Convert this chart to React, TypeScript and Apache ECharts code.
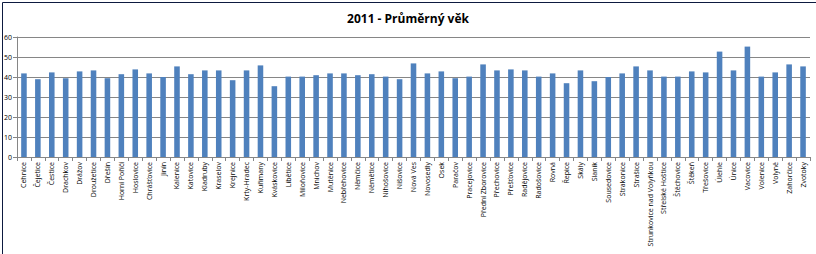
import React, { useEffect, useRef } from "react";
import * as echarts from "echarts";

const titleText = "2011 - Průměrný věk";

const categories = [
  "Cehnice", "Čejetice", "Čestice", "Drachkov", "Drážov", "Droužetice", "Dřešín",
  "Horní Poříčí", "Hoslovice", "Chrášťovice", "Jinín", "Kalenice", "Katovice", "Kladruby",
  "Kraselov", "Krejnice", "Krty-Hradec", "Kuřimany", "Kváskovice", "Libětice", "Miloňovice",
  "Mnichov", "Mutěnice", "Nebřehovice", "Němčice", "Němětice", "Nihošovice", "Nišovice",
  "Nová Ves", "Novosedly", "Osek", "Paračov", "Pracejovice", "Přední Zborovice", "Přechovice",
  "Přešťovice", "Radějovice", "Radošovice", "Rovná", "Řepice", "Skály", "Slaník",
  "Sousedovice", "Strakonice", "Strašice", "Strunkovice nad Volyňkou", "Střelské Hoštice",
  "Štěchovice", "Štěkeň", "Třešovice", "Úlehle", "Únice", "Vacovice", "Volenice", "Volyně",
  "Zahorčice", "Zvotoky",
];

const values = [
  41.8, 38.9, 42.3, 39.4, 42.8, 43.3, 39.4,
  41.4, 43.8, 41.8, 40.0, 45.3, 41.4, 43.3,
  43.3, 38.4, 43.3, 45.8, 35.4, 40.2, 40.2,
  40.9, 41.8, 41.8, 40.9, 41.4, 40.2, 38.9,
  46.8, 41.8, 42.8, 39.4, 40.2, 46.3, 43.3,
  43.8, 43.3, 40.2, 41.8, 36.9, 43.3, 37.9,
  40.0, 41.8, 45.3, 43.3, 40.2,
  40.2, 42.8, 42.3, 52.7, 43.3, 55.2, 40.2, 42.3,
  46.3, 45.3,
];

const yMin = 0;
const yMax = 60;
const yStep = 10;

export default function App() {
  const ref = useRef<HTMLDivElement>(null);
  useEffect(() => {
    document.body.style.margin = "0";
    if (!ref.current) return;
    const chart = echarts.init(ref.current, null, { renderer: "svg" });
    chart.setOption({
      animation: false,
      backgroundColor: "#ffffff",
      title: {
        text: titleText,
        left: "center",
        top: 7,
        textStyle: {
          fontFamily: "Open Sans",
          fontSize: 12,
          fontWeight: "bold",
          color: "#000000",
        },
      },
      graphic: [
        {
          type: "rect",
          left: 0,
          top: 0,
          shape: { x: 0.5, y: 0.5, width: 815, height: 253 },
          style: { fill: "none", stroke: "#0d1a40", lineWidth: 1 },
          silent: true,
        },
      ],
      grid: { left: 17, right: 6, top: 37, bottom: 97, containLabel: false },
      xAxis: {
        type: "category",
        data: categories,
        boundaryGap: true,
        axisLine: { lineStyle: { color: "#868686", width: 1 } },
        axisTick: { show: true, length: 4, alignWithLabel: false, lineStyle: { color: "#868686" } },
        axisLabel: {
          interval: 0,
          rotate: 90,
          fontSize: 7,
          fontFamily: "Open Sans",
          color: "#000000",
          margin: 5,
        },
      },
      yAxis: {
        type: "value",
        min: yMin,
        max: yMax,
        interval: yStep,
        axisLine: { show: true, lineStyle: { color: "#868686", width: 1 } },
        axisTick: { show: true, length: 4, lineStyle: { color: "#868686" } },
        splitLine: { show: true, lineStyle: { color: "#868686", width: 1 } },
        axisLabel: { fontSize: 7, fontFamily: "Open Sans", color: "#000000", margin: 5 },
      },
      series: [
        {
          type: "bar",
          data: values,
          barWidth: "40%",
          itemStyle: { color: "#4f81bd" },
        },
      ],
    });
    return () => chart.dispose();
  }, []);
  return <div ref={ref} style={{ width: 816, height: 254 }} />;
}
